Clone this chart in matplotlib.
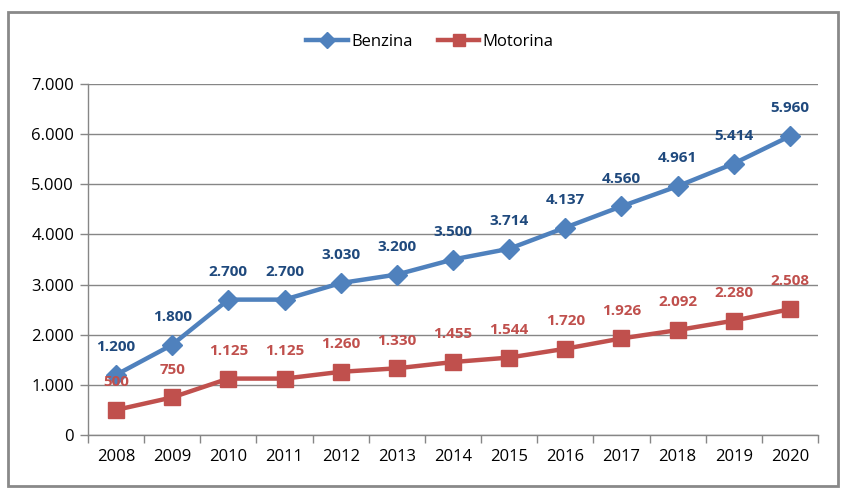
import matplotlib
matplotlib.use("Agg")
import matplotlib.pyplot as plt
from matplotlib.ticker import FuncFormatter, FixedLocator
from matplotlib.patches import Rectangle

years = ["2008", "2009", "2010", "2011", "2012", "2013", "2014",
         "2015", "2016", "2017", "2018", "2019", "2020"]
benzina = [1200, 1800, 2700, 2700, 3030, 3200, 3500, 3714, 4137, 4560, 4961, 5414, 5960]
motorina = [500, 750, 1125, 1125, 1260, 1330, 1455, 1544, 1720, 1926, 2092, 2280, 2508]

plt.rcParams['font.family'] = ['Open Sans', 'DejaVu Sans']

fig = plt.figure(figsize=(8.55, 4.99), dpi=100)
ax = fig.add_axes([88/855, 1-435/499, 730/855, 351/499])

blue = "#4F81BD"
red = "#C0504D"
dblue = "#1F497D"

def fmt(v):
    return f"{int(v):,}".replace(",", ".")

x = list(range(len(years)))
ax.plot(x, benzina, color=blue, lw=3.2, marker="D", ms=10, mec=blue, mfc=blue, label="Benzina", zorder=3)
ax.plot(x, motorina, color=red, lw=3.2, marker="s", ms=11, mec=red, mfc=red, label="Motorina", zorder=3)

for xi, v in zip(x, benzina):
    ax.annotate(fmt(v), (xi, v), xytext=(0, 20), textcoords="offset points",
                ha="center", va="center", color=dblue, fontsize=11, fontweight="bold")
for xi, v in zip(x, motorina):
    ax.annotate(fmt(v), (xi, v), xytext=(0, 20), textcoords="offset points",
                ha="center", va="center", color=red, fontsize=11, fontweight="bold")

ax.set_xlim(-0.5, len(years) - 0.5)
ax.set_ylim(0, 7000)
ax.set_yticks(range(0, 7001, 1000))
ax.yaxis.set_major_formatter(FuncFormatter(lambda v, p: fmt(v)))
ax.set_xticks(x)
ax.set_xticklabels(years)
ax.xaxis.set_minor_locator(FixedLocator([i - 0.5 for i in range(len(years) + 1)]))
ax.tick_params(axis="x", which="major", length=0, pad=10, labelsize=12)
ax.tick_params(axis="x", which="minor", length=6, color="#868686", width=1)
ax.tick_params(axis="y", length=6, color="#868686", width=1, labelsize=12, pad=4)
ax.grid(axis="y", color="#868686", lw=1)
ax.set_axisbelow(True)
for s in ["top", "right"]:
    ax.spines[s].set_visible(False)
for s in ["left", "bottom"]:
    ax.spines[s].set_color("#868686")
    ax.spines[s].set_linewidth(1)

leg = fig.legend(loc="center", bbox_to_anchor=(430/855, 1-42/499), ncol=2, frameon=False,
                 fontsize=12, handlelength=2.5, handletextpad=0.2, columnspacing=1.5,
                 markerscale=0.8)

fig.patches.append(Rectangle((8/855, 1-486/499), 830/855, 474/499, transform=fig.transFigure,
                             fill=False, edgecolor="#898989", lw=2))

fig.savefig("out.png", dpi=100)
